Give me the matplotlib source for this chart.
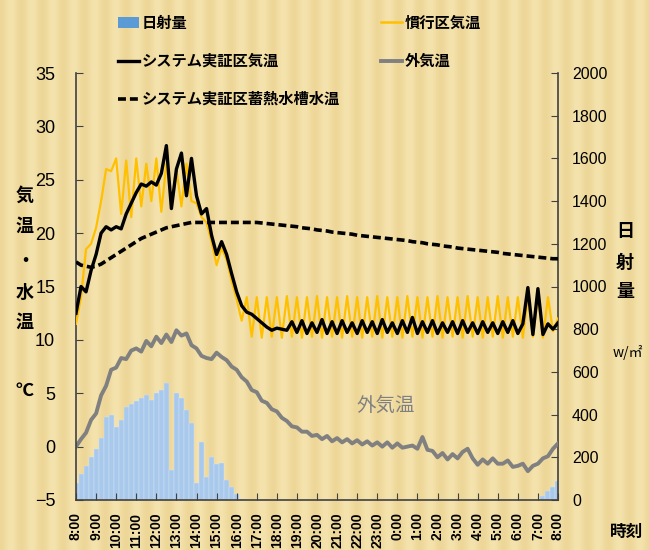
import matplotlib
matplotlib.use("Agg")
import matplotlib.pyplot as plt
from matplotlib.lines import Line2D
from matplotlib.patches import Patch
import numpy as np

# ---------------- data (15-minute samples, hours after 8:00) ----------------
hours = [i * 0.25 for i in range(97)]
tick_labels = ["8:00", "9:00", "10:00", "11:00", "12:00", "13:00", "14:00", "15:00",
               "16:00", "17:00", "18:00", "19:00", "20:00", "21:00", "22:00", "23:00",
               "0:00", "1:00", "2:00", "3:00", "4:00", "5:00", "6:00", "7:00", "8:00"]

system_air = [12.5, 15.0, 14.5, 16.5, 18.0, 20.0, 20.6, 20.3, 20.6, 20.4,
              21.8, 22.8, 23.8, 24.6, 24.4, 24.8, 24.5, 25.6, 28.2, 22.3,
              26.0, 27.5, 23.5, 27.0, 23.5, 21.8, 22.3, 19.8, 18.0, 19.2,
              18.0, 16.2, 14.5, 13.2, 12.6, 12.4, 12.0, 11.6, 11.2, 10.9,
              11.1, 11.0, 10.9, 11.7, 10.7, 11.8, 10.6, 11.6, 10.7, 11.9,
              10.6, 11.7, 10.6, 11.8, 10.7, 11.6, 10.6, 11.8, 10.7, 11.7,
              10.6, 11.9, 10.7, 11.6, 10.6, 11.8, 10.7, 12.1, 10.6, 11.7,
              10.7, 11.8, 10.6, 11.6, 10.7, 11.7, 10.6, 11.8, 10.7, 11.6,
              10.6, 11.7, 10.7, 11.6, 10.6, 11.7, 10.7, 11.8, 10.6, 11.5,
              14.9, 10.5, 14.8, 10.5, 11.5, 11.0, 11.6]

conventional_air = [11.5, 14.0, 18.5, 19.0, 20.5, 23.0, 26.0, 25.8, 27.0, 21.8,
                    26.8, 21.5, 27.0, 22.5, 26.5, 23.0, 27.0, 22.0, 26.5, 23.0,
                    26.0, 22.5, 26.5, 23.0, 22.8, 21.5, 21.0, 19.2, 17.0, 18.6,
                    17.5, 15.5, 13.8, 11.8, 14.0, 10.3, 14.0, 10.2, 14.0, 10.3,
                    14.0, 10.2, 14.1, 10.3, 14.0, 10.2, 14.0, 10.3, 14.1, 10.2,
                    14.0, 10.3, 14.0, 10.2, 14.1, 10.3, 14.0, 10.2, 14.0, 10.3,
                    14.1, 10.2, 14.0, 10.3, 14.0, 10.2, 14.1, 10.3, 14.0, 10.2,
                    14.0, 10.3, 14.1, 10.2, 14.0, 10.3, 14.0, 10.2, 14.1, 10.3,
                    14.0, 10.2, 14.0, 10.3, 14.1, 10.2, 14.0, 10.3, 14.0, 10.2,
                    14.1, 10.3, 14.0, 10.2, 14.0, 10.8, 12.0]

outdoor_air = [0.0, 0.7, 1.3, 2.5, 3.1, 4.8, 5.7, 7.2, 7.4, 8.3,
               8.2, 9.0, 9.2, 8.9, 9.9, 9.4, 10.3, 9.7, 10.5, 9.8,
               10.9, 10.4, 10.6, 9.5, 9.2, 8.5, 8.3, 8.2, 8.8, 8.4,
               8.1, 7.5, 7.2, 6.5, 6.1, 5.3, 5.1, 4.3, 4.1, 3.5,
               3.3, 2.7, 2.4, 1.9, 1.8, 1.4, 1.4, 1.0, 1.1, 0.7,
               1.0, 0.5, 0.8, 0.4, 0.7, 0.3, 0.6, 0.2, 0.5, 0.1,
               0.4, 0.0, 0.4, -0.1, 0.3, -0.1, 0.0, 0.1, -0.2, 0.9,
               -0.3, -0.4, -1.0, -0.6, -1.2, -0.7, -1.1, -0.5, -0.2, -1.1,
               -1.7, -1.2, -1.6, -1.1, -1.6, -1.6, -1.3, -1.9, -1.8, -1.6,
               -2.3, -1.8, -1.6, -1.1, -0.9, -0.2, 0.3]

tank_water = [17.3, 17.0, 16.9, 16.8, 16.9, 17.1, 17.4, 17.7, 18.0, 18.3,
              18.6, 18.9, 19.2, 19.5, 19.7, 19.9, 20.1, 20.3, 20.5, 20.6,
              20.7, 20.8, 20.9, 21.0, 21.0, 21.0, 21.0, 21.0, 21.0, 21.0,
              21.0, 21.0, 21.0, 21.0, 21.0, 21.0, 21.0, 20.95, 20.9, 20.85,
              20.8, 20.75, 20.7, 20.65, 20.6, 20.5, 20.45, 20.4, 20.3, 20.25,
              20.2, 20.1, 20.05, 20.0, 19.95, 19.9, 19.8, 19.75, 19.7, 19.65,
              19.6, 19.55, 19.5, 19.45, 19.4, 19.35, 19.3, 19.2, 19.15, 19.1,
              19.0, 18.95, 18.9, 18.8, 18.75, 18.7, 18.6, 18.55, 18.5, 18.45,
              18.4, 18.35, 18.3, 18.25, 18.2, 18.1, 18.05, 18.0, 17.95, 17.9,
              17.85, 17.8, 17.75, 17.7, 17.65, 17.6, 17.6]

solar = [80, 120, 160, 200, 240, 290, 390, 400, 340, 375,
         435, 450, 465, 480, 490, 470, 500, 515, 550, 140,
         500, 480, 420, 360, 80, 270, 110, 200, 170, 175,
         95, 60, 30, 5] + [0] * 59 + [20, 40, 60, 90]

# ---------------- figure ----------------
W, H = 649, 550
fig = plt.figure(figsize=(W / 100, H / 100), dpi=100)
fig.patch.set_facecolor("#EFDBA2")

# decorative striped background
bg = fig.add_axes([0, 0, 1, 1], zorder=-10)
xs = np.linspace(0, 1, W)
stripe = 0.5 + 0.5 * np.cos(xs * W / 21.0 * 2 * np.pi)
light = np.array([0.960, 0.890, 0.680])
dark = np.array([0.910, 0.810, 0.540])
img = light[None, None, :] * (1 - 0.6 * stripe[None, :, None]) + dark[None, None, :] * (0.6 * stripe[None, :, None])
img = np.repeat(img, 10, axis=0)
bg.imshow(img, aspect="auto", extent=[0, 1, 0, 1])
bg.axis("off")

CJK = ["Noto Sans CJK JP", "DejaVu Sans"]
NUM = ["Liberation Sans Narrow", "Liberation Sans", "DejaVu Sans"]

ax = fig.add_axes([76 / W, 50 / H, (558 - 76) / W, (500 - 73) / H])
ax2 = ax.twinx()
ax.set_zorder(ax2.get_zorder() + 1)
ax.patch.set_visible(False)
ax2.patch.set_visible(False)

# solar radiation bars (right axis)
ax2.bar(hours, solar, width=0.25, color="#A9C9EC", edgecolor="#D6E5F5", linewidth=0.3, zorder=1)
ax2.set_ylim(0, 2000)
ax2.set_yticks(range(0, 2001, 200))

# temperature lines (left axis)
DASH = (0, (2.2, 1.1))
ax.plot(hours, outdoor_air, color="#808080", lw=2.8, zorder=2)
ax.plot(hours, conventional_air, color="#FFC000", lw=1.6, zorder=3)
ax.plot(hours, system_air, color="black", lw=2.4, zorder=4)
ax.plot(hours, tank_water, color="black", lw=2.6, ls=DASH, zorder=5)
ax.set_ylim(-5, 35)
ax.set_yticks(range(-5, 36, 5))
ax.set_xlim(0, 24)
ax.set_xticks(range(0, 25))
ax.set_xticklabels(tick_labels, rotation=90, fontsize=10, family=NUM, fontweight="bold")

for a in (ax, ax2):
    a.spines["top"].set_visible(False)
ax.spines["right"].set_visible(False)
ax2.spines["left"].set_visible(False)
ax2.spines["bottom"].set_visible(False)
for s in ("left", "bottom"):
    ax.spines[s].set_color("#404040")
    ax.spines[s].set_linewidth(1.2)
ax2.spines["right"].set_color("#404040")
ax2.spines["right"].set_linewidth(1.2)

ax.tick_params(axis="y", direction="in", length=5, color="#404040", pad=15, labelsize=13)
ax.tick_params(axis="x", direction="in", length=5, color="#404040", pad=9)
ax2.tick_params(axis="y", direction="in", length=5, color="#404040", pad=10, labelsize=11.5)
for lab in ax.get_yticklabels() + ax2.get_yticklabels():
    lab.set_family(NUM)

# axis titles built from stacked characters
for ch, y in [("気", 195), ("温", 226), ("・", 262), ("水", 292), ("温", 322), ("℃", 390)]:
    fig.text(25 / W, 1 - y / H, ch, family=CJK, fontsize=13, fontweight="bold",
             ha="center", va="center")
for ch, y in [("日", 232), ("射", 262), ("量", 292)]:
    fig.text(625 / W, 1 - y / H, ch, family=CJK, fontsize=13, fontweight="bold",
             ha="center", va="center")
fig.text(628 / W, 1 - 353 / H, "w/㎡", family=CJK, fontsize=10, ha="center", va="center")
fig.text(627 / W, 1 - 532 / H, "時刻", family=CJK, fontsize=12, fontweight="bold",
         ha="center", va="center")

ax.text(15.4, 3.9, "外気温", family=CJK, fontsize=14, color="#808080", ha="center", va="center")

# legend
handles = [
    Patch(facecolor="#5B9BD5", edgecolor="none"),
    Line2D([], [], color="black", lw=2.4),
    Line2D([], [], color="black", lw=2.6, ls=DASH),
    Line2D([], [], color="#FFC000", lw=1.8),
    Line2D([], [], color="#808080", lw=2.8),
]
labels = ["日射量", "システム実証区気温", "システム実証区蓄熱水槽水温", "慣行区気温", "外気温"]
leg = fig.legend(handles, labels, ncol=2, loc="upper left", bbox_to_anchor=(104 / W, 1 - 1 / H),
                 frameon=False, prop={"family": CJK, "size": 11, "weight": "bold"},
                 handlelength=1.4, handletextpad=0.15, labelspacing=1.45, columnspacing=2.7)

fig.savefig("out.png", dpi=100, facecolor=fig.get_facecolor())
